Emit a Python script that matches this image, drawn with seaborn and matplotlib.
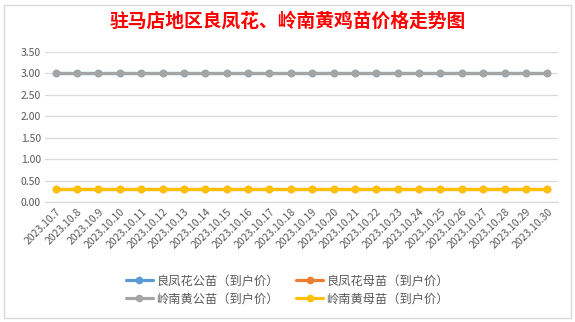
import matplotlib
matplotlib.use("Agg")
import matplotlib.pyplot as plt
import seaborn as sns
import pandas as pd
from matplotlib.patches import Rectangle
from matplotlib.lines import Line2D

dates = ["2023.10.7", "2023.10.8", "2023.10.9", "2023.10.10", "2023.10.11", "2023.10.12",
         "2023.10.13", "2023.10.14", "2023.10.15", "2023.10.16", "2023.10.17", "2023.10.18",
         "2023.10.19", "2023.10.20", "2023.10.21", "2023.10.22", "2023.10.23", "2023.10.24",
         "2023.10.25", "2023.10.26", "2023.10.27", "2023.10.28", "2023.10.29", "2023.10.30"]
lf_male = [3.0] * 24
lf_female = [0.3] * 24
ln_male = [3.0] * 24
ln_female = [0.3] * 24

series_names = ["良凤花公苗（到户价）", "良凤花母苗（到户价）", "岭南黄公苗（到户价）", "岭南黄母苗（到户价）"]
series_vals = [lf_male, lf_female, ln_male, ln_female]
colors = ["#5B9BD5", "#ED7D31", "#A5A5A5", "#FFC000"]
yticks = [0.0, 0.5, 1.0, 1.5, 2.0, 2.5, 3.0, 3.5]

sns.set_theme(style="white")
plt.rcParams["font.family"] = ["Noto Sans CJK SC", "DejaVu Sans"]

fig = plt.figure(figsize=(5.75, 3.22), dpi=100)
fig.patch.set_facecolor("white")
# chart border
fig.add_artist(Rectangle((4 / 575, 4 / 322), 567 / 575, 313 / 322, transform=fig.transFigure,
                         fill=False, edgecolor="#D9D9D9", linewidth=1.0))

ax = fig.add_axes([45 / 575, 1 - 202 / 322, 513 / 575, 150 / 322])

rows = []
for name, vals in zip(series_names, series_vals):
    for i, v in enumerate(vals):
        rows.append({"pos": i, "date": dates[i], "value": v, "series": name})
df = pd.DataFrame(rows)

for name, c in zip(series_names, colors):
    sub = df[df["series"] == name]
    sns.lineplot(data=sub, x="pos", y="value", ax=ax, color=c, linewidth=2.3,
                 marker="o", markersize=5.5, markeredgewidth=0, sort=False, legend=False)

ax.set_xlim(-0.5, len(dates) - 0.5)
ax.set_ylim(0, 3.5)
ax.set_yticks(yticks)
ax.set_yticklabels([f"{t:.2f}" for t in yticks], fontsize=7.5, color="#595959")
ax.set_xticks(range(len(dates)))
ax.set_xticklabels(dates, rotation=45, ha="right", rotation_mode="anchor",
                   fontsize=7.5, color="#595959")
ax.tick_params(axis="both", length=0, pad=3)
ax.set_xlabel("")
ax.set_ylabel("")
ax.grid(axis="y", color="#D9D9D9", linewidth=0.9)
ax.set_axisbelow(True)
for s in ["top", "right", "left"]:
    ax.spines[s].set_visible(False)
ax.spines["bottom"].set_color("#D9D9D9")
ax.spines["bottom"].set_linewidth(0.9)

fig.text(0.5, 1 - 21 / 322, "驻马店地区良凤花、岭南黄鸡苗价格走势图", ha="center", va="center",
         fontsize=13.5, color="#FF0000", fontweight="bold")

order = [0, 2, 1, 3]
handles = [Line2D([0], [0], color=colors[i], linewidth=2.3, marker="o", markersize=5.5,
                  markeredgewidth=0) for i in order]
labels = [series_names[i] for i in order]
fig.legend(handles, labels, loc="center", bbox_to_anchor=(0.5, 1 - 290 / 322), ncol=2,
           frameon=False, fontsize=8.8, labelcolor="#595959", handlelength=2.2,
           handletextpad=0.3, columnspacing=1.4, labelspacing=0.45)

fig.savefig("out.png", dpi=100, facecolor="white")
